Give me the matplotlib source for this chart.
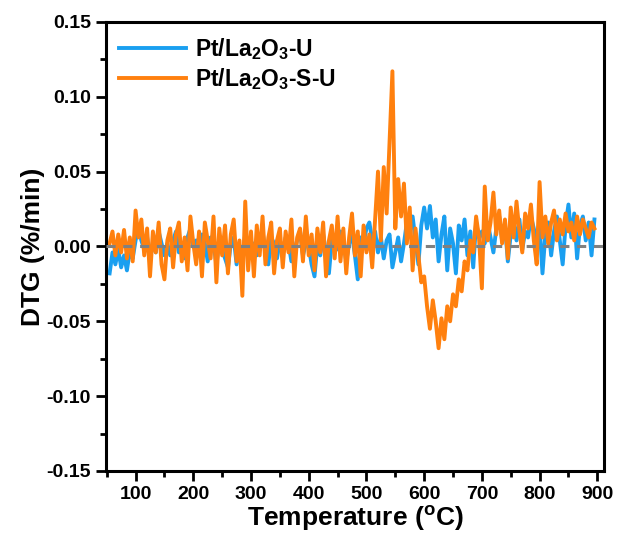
import numpy as np
import matplotlib.pyplot as plt

plt.rcParams['font.family'] = ['Liberation Sans', 'DejaVu Sans']
plt.rcParams['font.weight'] = 'bold'
plt.rcParams['mathtext.default'] = 'regular'

# temperature grid (oC)
temp = np.arange(55, 900, 5)

# Pt/La2O3-U (blue)
dtg_u = [
    -0.018, -0.004, -0.012, -0.002, -0.014, -0.006, -0.016, -0.003, -0.008, 0.004,
    0.012, 0.004, -0.002, 0.006, -0.008, 0.003, -0.004, 0.010, 0.002, -0.006,
    0.002, -0.006, 0.004, 0.010, -0.004, 0.002, -0.008, 0.006, 0.012, 0.000,
    0.004, -0.004, 0.008, 0.002, -0.010, 0.006, 0.002, -0.012, 0.004, -0.002,
    -0.008, -0.014, 0.002, 0.006, -0.012, 0.000, -0.006, 0.008, 0.002, -0.004,
    0.002, -0.006, 0.004, 0.010, -0.004, -0.012, 0.006, 0.002, -0.008, 0.004,
    -0.004, 0.006, 0.002, -0.010, -0.002, 0.004, 0.010, -0.006, 0.002, 0.000,
    -0.012, -0.020, 0.002, -0.006, 0.008, -0.004, -0.018, 0.004, 0.006, -0.002,
    0.010, 0.004, -0.010, 0.002, 0.008, -0.006, -0.022, 0.006, 0.002, 0.012,
    0.016, 0.004, 0.010, -0.004, 0.006, -0.008, 0.004, 0.008, -0.014, -0.004,
    0.006, -0.010, 0.002, 0.016, 0.010, 0.020, 0.004, -0.012, 0.014, 0.026,
    0.012, 0.027, 0.006, 0.018, -0.010, 0.008, 0.020, -0.016, 0.012, 0.002,
    -0.018, 0.014, 0.004, 0.018, -0.006, 0.010, -0.014, 0.016, 0.006, 0.010,
    0.002, 0.016, 0.006, -0.004, 0.012, 0.020, 0.004, 0.014, -0.010, 0.008,
    0.016, 0.004, 0.018, -0.002, 0.010, 0.006, 0.020, 0.012, 0.002, 0.014,
    -0.018, 0.008, 0.016, -0.006, 0.010, 0.020, 0.004, -0.012, 0.014, 0.028,
    0.006, 0.022, -0.008, 0.014, 0.020, 0.004, 0.016, -0.006, 0.018,
]

# Pt/La2O3-S-U (orange)
dtg_su = [
    0.002, 0.010, -0.006, 0.008, -0.004, 0.011, -0.008, 0.006, -0.010, 0.024,
    0.006, 0.018, -0.006, 0.012, -0.020, 0.010, -0.004, 0.016, -0.012, -0.022,
    0.004, 0.012, -0.014, 0.008, 0.016, -0.010, 0.006, -0.016, 0.020, 0.002,
    -0.012, 0.010, -0.020, 0.016, 0.004, -0.008, 0.020, -0.024, 0.012, -0.006,
    0.014, -0.018, 0.008, 0.018, -0.010, 0.004, -0.033, 0.030, -0.016, 0.010,
    -0.020, 0.014, -0.006, 0.020, -0.012, 0.006, 0.016, -0.018, 0.004, 0.012,
    -0.014, 0.010, -0.004, 0.018, -0.020, 0.006, 0.012, -0.010, 0.020, -0.006,
    0.008, -0.016, 0.012, -0.004, 0.016, -0.020, 0.004, 0.014, -0.008, 0.020,
    -0.010, 0.012, -0.018, 0.006, 0.022, -0.006, 0.010, -0.020, 0.014, -0.004,
    0.008, -0.014, 0.018, 0.050, 0.004, 0.053, 0.022, 0.070, 0.117, 0.012,
    0.045, 0.020, 0.042, 0.002, 0.026, -0.016, 0.012, -0.006, -0.024, -0.020,
    -0.040, -0.055, -0.036, -0.050, -0.068, -0.048, -0.062, -0.040, -0.050, -0.032,
    -0.040, -0.022, -0.030, -0.010, -0.016, 0.004, -0.004, 0.020, 0.006, -0.028,
    0.040, 0.004, 0.016, 0.036, 0.008, 0.024, 0.002, 0.018, -0.008, 0.026,
    0.006, 0.030, 0.010, -0.004, 0.022, 0.012, 0.028, 0.004, -0.012, 0.043,
    0.006, 0.020, 0.002, 0.016, 0.024, 0.004, 0.018, 0.008, 0.022, 0.010,
    0.016, 0.004, 0.020, 0.008, 0.018, 0.012, 0.006, 0.016, 0.012,
]

fig = plt.figure(figsize=(6.21, 5.47), dpi=100)
ax = fig.add_axes([0.170, 0.139, 0.803, 0.821])

ax.plot(temp, dtg_u, color='#1a9ff0', lw=2.8, label=r'Pt/La$_2$O$_3$-U')
ax.plot(temp, dtg_su, color='#ff800e', lw=2.8, label=r'Pt/La$_2$O$_3$-S-U')
ax.axhline(0, color='#808080', lw=2.2, ls=(0, (3, 2.5)), zorder=5)

ax.set_xlim(48, 912)
ax.set_ylim(-0.15, 0.15)
ax.set_xticks(range(100, 901, 100))
ax.set_xticks(range(50, 901, 100), minor=True)
ax.set_yticks(np.arange(-0.15, 0.151, 0.05))
ax.set_yticks(np.arange(-0.125, 0.15, 0.05), minor=True)
ax.set_yticklabels(['%.2f' % v for v in np.arange(-0.15, 0.151, 0.05)])

ax.tick_params(which='major', length=7, width=2, labelsize=14)
ax.tick_params(which='minor', length=4, width=2)
for s in ax.spines.values():
    s.set_linewidth(2.2)

ax.set_xlabel(r'Temperature ($^{o}$C)', fontsize=19, fontweight='bold', labelpad=1)
ax.set_ylabel('DTG (%/min)', fontsize=19, fontweight='bold', labelpad=1)

ax.legend(loc='upper left', frameon=False, fontsize=16.5, handlelength=2.9,
          handletextpad=0.4, borderaxespad=0.2, labelspacing=0.2)

fig.savefig('out.png', dpi=100)
